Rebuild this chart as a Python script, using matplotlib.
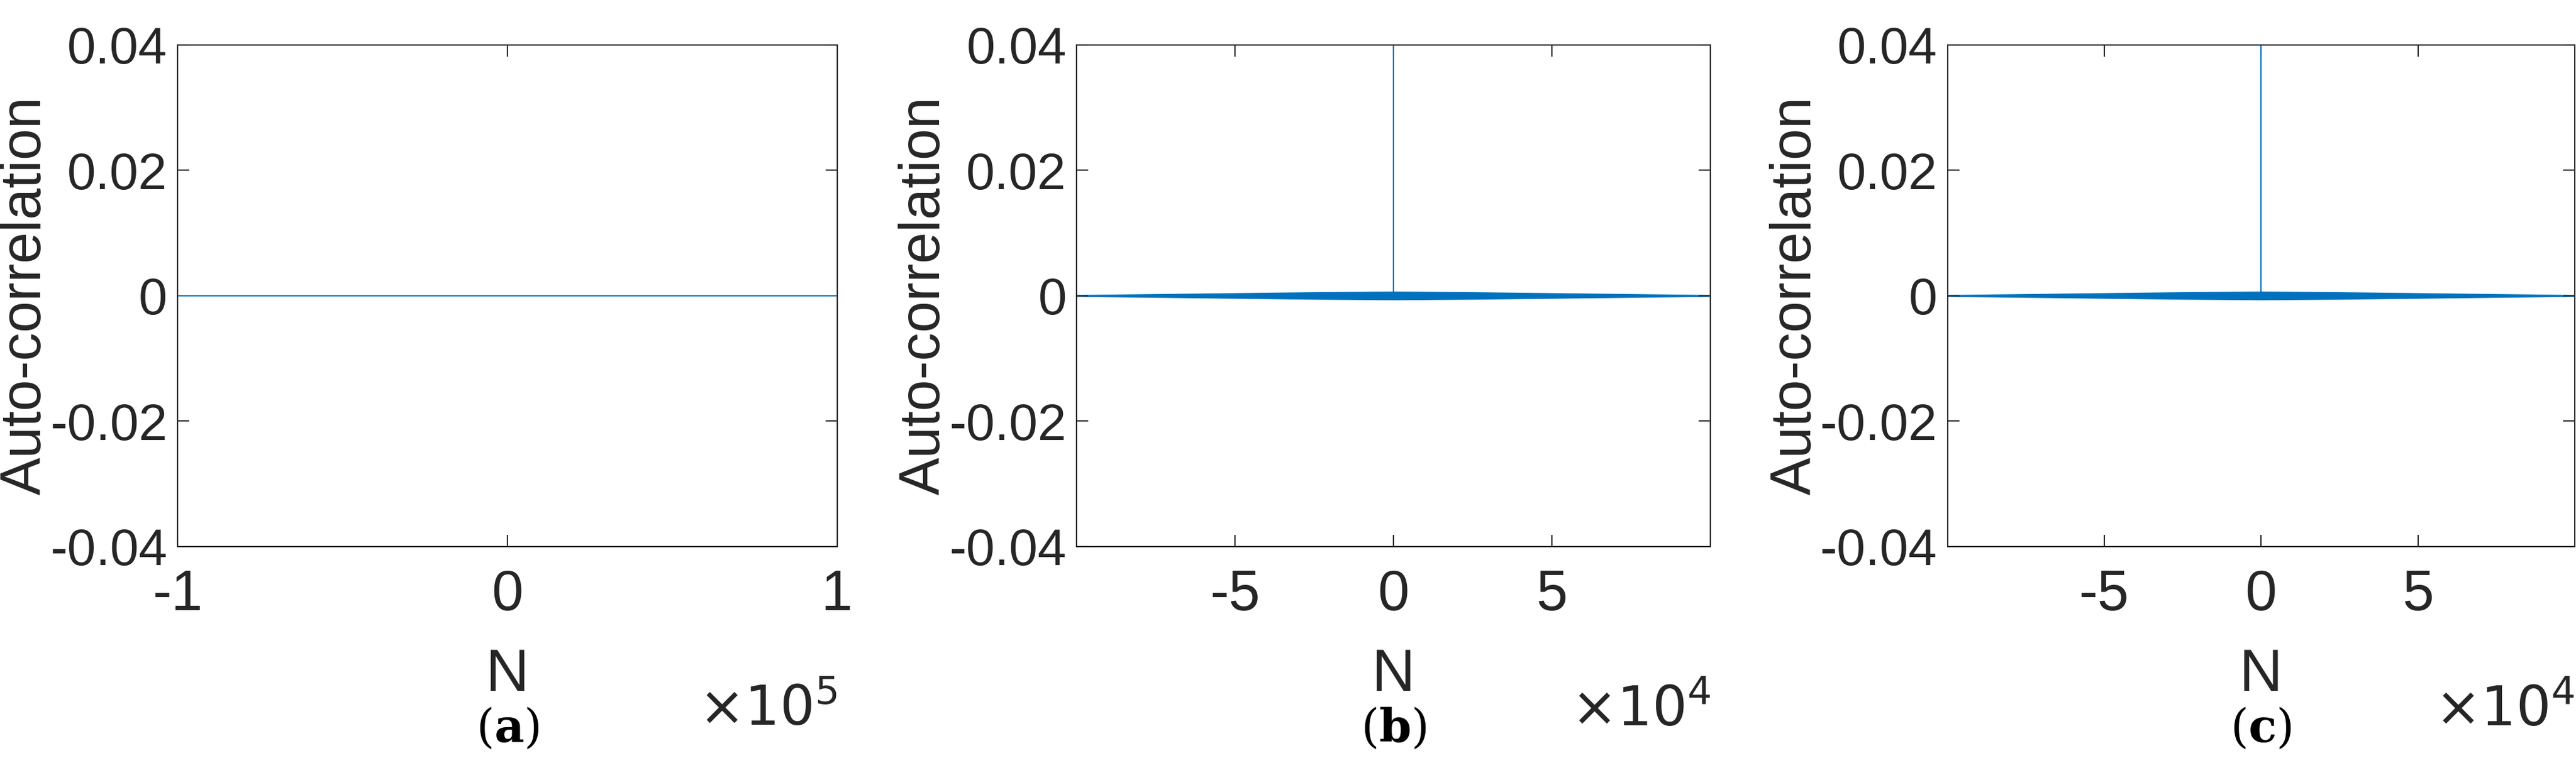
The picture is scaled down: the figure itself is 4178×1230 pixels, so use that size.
import matplotlib.pyplot as plt
import numpy as np

plt.rcParams['font.family'] = ['Liberation Sans', 'DejaVu Sans']

# panel (a): flat autocorrelation
lags_a = [-100000, 100000]
acf_a = [0, 0]

# panels (b),(c): envelope of the noise band, plus spike at lag 0
env_lags = [-99999, -75000, -50000, -25000, 0, 25000, 50000, 75000, 99999]
env_half = [0.00015, 0.0003, 0.00045, 0.0006, 0.0007, 0.0006, 0.00045, 0.0003, 0.00015]
spike_top = 1.0

blue = '#0072BD'
fig = plt.figure(figsize=(41.78, 12.3), dpi=100)
rects = [(0.069, 0.279, 0.256, 0.662), (0.418, 0.279, 0.246, 0.662), (0.756, 0.279, 0.2435, 0.662)]
caps = ['a', 'b', 'c']

for i, r in enumerate(rects):
    ax = fig.add_axes(r)
    if i == 0:
        ax.plot(lags_a, acf_a, color=blue, lw=1.5)
        ax.set_xlim(-100000, 100000)
        ax.set_xticks([-100000, 0, 100000])
        ax.set_xticklabels(['-1', '0', '1'])
        mult = r'$\times10^5$'
    else:
        e = np.array(env_half)
        ax.fill_between(env_lags, -e, e, color=blue, lw=0)
        ax.plot([0, 0], [0, spike_top], color=blue, lw=1.5)
        ax.set_xlim(-99999, 99999)
        ax.set_xticks([-50000, 0, 50000])
        ax.set_xticklabels(['-5', '0', '5'])
        mult = r'$\times10^4$'
    ax.set_ylim(-0.04, 0.04)
    ax.set_yticks([-0.04, -0.02, 0, 0.02, 0.04])
    ax.set_yticklabels(['-0.04', '-0.02', '0', '0.02', '0.04'])
    ax.tick_params(direction='in', length=14, width=1.5, labelsize=60, colors='#262626',
                   top=True, right=True, pad=12)
    ax.tick_params(axis='x', labelsize=66, pad=26)
    for s in ax.spines.values():
        s.set_linewidth(1.5)
        s.set_color('#262626')
    ax.set_ylabel('Auto-correlation', fontsize=66, color='#262626')
    ax.yaxis.set_label_coords(-0.19 * 0.256 / r[2], 0.5)
    ax.set_xlabel('N', fontsize=70, color='#262626', labelpad=30)
    ax.text(1.0, -0.275, mult, transform=ax.transAxes, ha='right', va='top',
            fontsize=64, color='#262626', math_fontfamily='dejavusans')
    ax.text(0.5, -0.32, '(' + r'$\mathbf{' + caps[i] + '}$' + ')', transform=ax.transAxes,
            ha='center', va='top', fontsize=54, family='DejaVu Serif', math_fontfamily='dejavuserif')

fig.savefig('out.png')
